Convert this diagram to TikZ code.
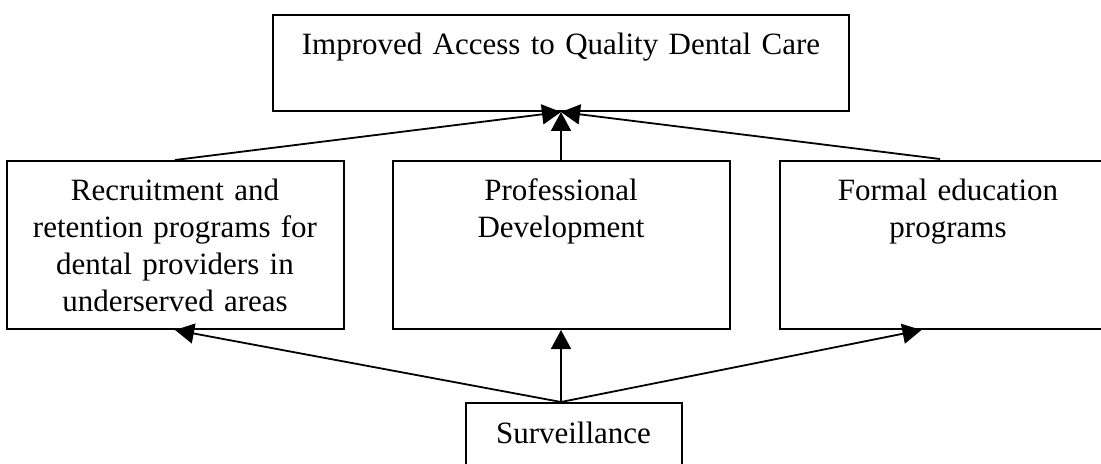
\documentclass[tikz,border=0pt]{standalone}
\usepackage{fontspec}
\setmainfont{Liberation Serif}[WordSpace=0.85]
\usetikzlibrary{arrows.meta, positioning, calc}

\begin{document}
\begin{tikzpicture}[
        node distance=24pt and 24pt,
        goalbox/.style={rectangle, draw=black, line width=1pt, inner sep=0pt, text width=288pt, align=center, text height=20pt, text depth=28pt, font=\fontsize{15.5pt}{18.5pt}\selectfont},
        progbox/.style={rectangle, draw=black, line width=1pt, inner sep=0pt, text width=168.5pt, align=center, text height=20pt, text depth=64pt, font=\fontsize{15.5pt}{18.5pt}\selectfont},
        survbox/.style={rectangle, draw=black, line width=1pt, inner sep=0pt, text width=108pt, align=center, text height=20pt, text depth=64pt, font=\fontsize{15.5pt}{18.5pt}\selectfont},
        arrow/.style={-{Triangle[length=9.5pt, width=10pt]}, line width=0.9pt, draw=black},
    ]
        % Page frame
        \useasboundingbox (0pt,0pt) rectangle (550.5pt,-232pt);
        \clip (0pt,0pt) rectangle (550.5pt,-232pt);

        % Goal
        \node[goalbox, anchor=north] (goal) at (280.5pt,-7pt) {Improved Access to Quality Dental Care};

        % Programs
        \node[progbox, below=24pt of goal] (devel) {Professional\\Development};
        \node[progbox, left=23.5pt of devel] (recruit) {Recruitment and\\retention programs for\\dental providers in\\underserved areas};
        \node[progbox, right=24pt of devel] (educ) {Formal education\\programs};

        % Source
        \node[survbox, below=36pt of devel, xshift=6.25pt] (surv) {Surveillance};

        % Arrows
        \coordinate (src) at (devel.south |- surv.north);
        \coordinate (educin) at ([xshift=-13.25pt]educ.south);
        \draw[arrow] (src) -- (devel.south);
        \draw[arrow] (src) -- (recruit.south);
        \draw[arrow] (src) -- (educin);
        \draw[arrow] (recruit.north) -- (goal.south);
        \draw[arrow] (devel.north) -- (goal.south);
        \draw[arrow, shorten <=4pt] (educ.north) -- (goal.south);
    \end{tikzpicture}
\end{document}
